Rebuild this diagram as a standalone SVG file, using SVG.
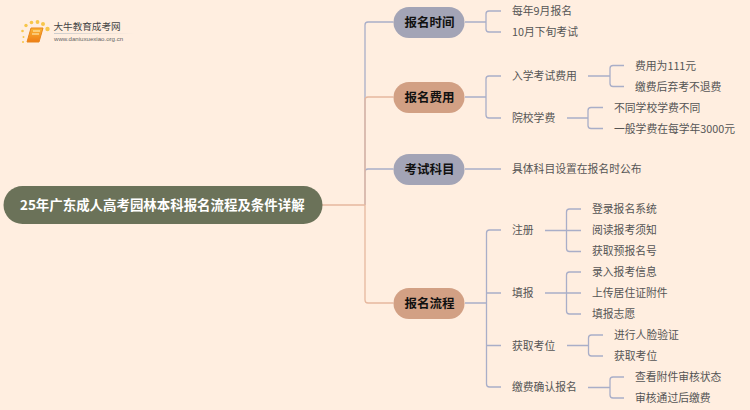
<svg xmlns="http://www.w3.org/2000/svg" width="750" height="410" viewBox="0 0 750 410">
<style>
text{font-family:"Noto Sans CJK SC","Noto Sans",sans-serif;dominant-baseline:central;transform:translateY(-.6px)}
.l{font-size:10.8px;fill:#555}
.b{font-size:12.5px;font-weight:700;fill:#111}
.c{fill:none;stroke-width:1.3;stroke-linejoin:round}
.g{stroke:#a9aec8}
.o{stroke:#e6b89f}
.d{fill:#f7c64a}
</style>
<defs><linearGradient id="u"><stop offset="0" stop-color="#ccc"/><stop offset="1" stop-color="#ccc" stop-opacity="0"/></linearGradient>
<linearGradient id="k" x1="0" y1="0" x2="0" y2="1"><stop offset="0" stop-color="#fbb535"/><stop offset="1" stop-color="#ee7d15"/></linearGradient></defs>
<rect width="750" height="410" fill="#ffeee0"/>
<g id="logo">
<circle class="d" cx="23" cy="42" r="1"/><circle class="d" cx="22.500" cy="31" r="1.300"/><circle class="d" cx="26" cy="25.500" r="1.700"/><circle class="d" cx="31.500" cy="22.500" r="1.800"/><circle class="d" cx="37.500" cy="22" r="1.900"/><circle class="d" cx="43" cy="24" r="2"/><circle class="d" cx="47.500" cy="29" r="2.200"/><circle class="d" cx="23.500" cy="37" r="1"/>
<path d="M31 28H43L39 42H27Z" fill="url(#k)" stroke="#e8861c" stroke-width="1"/><path d="M33 31H40M32 34H39" stroke="#fff3c0" stroke-width="1"/>
<text x="53.500" y="27" style="font-size:9.600px;fill:#444">大牛教育成考网</text>
<rect x="54" y="33" width="80" height="1" fill="url(#u)"/>
<text x="54" y="39" style="font-size:6.100px;fill:#666;font-family:'Liberation Sans',sans-serif">www.daniuxuexiao.org.cn</text>
</g>
<g id="connectors">
<path class="c g" d="M365 205V25Q365 22 368 22H393.500M365 172Q365 169 368 169H393.500"/>
<path class="c o" d="M322 205H365M365 205V100Q365 97 368 97H393.500M365 205V300Q365 303 368 303H393.500"/>
<path class="c g" d="M465 22H486M501 11H489Q486 11 486 14V29Q486 32 489 32H501"/>
<path class="c g" d="M465 97H486M501 76H489Q486 76 486 79V115Q486 118 489 118H501"/>
<path class="c g" d="M588 76H610M624 65.500H613Q610 65.500 610 68.500V83.500Q610 86.500 613 86.500H624"/>
<path class="c g" d="M567 118H588M603 107.500H591Q588 107.500 588 110.500V125.500Q588 128.500 591 128.500H603"/>
<path class="c g" d="M465 169H501"/>
<path class="c g" d="M465 303H486.500M501 230H489.500Q486.500 230 486.500 233V384Q486.500 387 489.500 387H501M486.500 293H501M486.500 345.500H501"/>
<path class="c g" d="M545 230.500H581M581 209H569.500Q566.500 209 566.500 212V248.500Q566.500 251.500 569.500 251.500H581"/>
<path class="c g" d="M545 293H581M581 272H569.500Q566.500 272 566.500 275V311Q566.500 314 569.500 314H581"/>
<path class="c g" d="M567 345.500H588.500M603 335H591.500Q588.500 335 588.500 338V353Q588.500 356 591.500 356H603"/>
<path class="c g" d="M588 387.500H610M624 377H613Q610 377 610 380V395Q610 398 613 398H624"/>
</g>
<g id="root"><rect x="3.500" y="186" width="319" height="38" rx="19" fill="#6b7259"/><text x="20" y="204.500" style="font-size:13.450px;font-weight:700;fill:#fff">25年广东成人高考园林本科报名流程及条件详解</text></g>
<g id="n1"><rect x="393.500" y="7" width="71" height="31" rx="15.500" fill="#a3a4b6"/><text class="b" x="404.500" y="22" >报名时间</text></g>
<g id="n2"><rect x="393.500" y="82" width="71" height="31" rx="15.500" fill="#d2a084"/><text class="b" x="404.500" y="97">报名费用</text></g>
<g id="n3"><rect x="393.500" y="154" width="71" height="31" rx="15.500" fill="#a3a4b6"/><text class="b" x="404.500" y="169">考试科目</text></g>
<g id="n4"><rect x="393.500" y="288" width="71" height="31" rx="15.500" fill="#d2a084"/><text class="b" x="404.500" y="303.500">报名流程</text></g>
<g id="leaves">
<text class="l" x="512" y="11">每年9月报名</text>
<text class="l" x="512" y="32">10月下旬考试</text>
<text class="l" x="512" y="76">入学考试费用</text>
<text class="l" x="635" y="65.500">费用为111元</text>
<text class="l" x="635" y="86.500">缴费后弃考不退费</text>
<text class="l" x="512" y="118">院校学费</text>
<text class="l" x="614" y="107.500">不同学校学费不同</text>
<text class="l" x="614" y="128.500">一般学费在每学年3000元</text>
<text class="l" x="512" y="169">具体科目设置在报名时公布</text>
<text class="l" x="512" y="230">注册</text>
<text class="l" x="592" y="209">登录报名系统</text>
<text class="l" x="592" y="230">阅读报考须知</text>
<text class="l" x="592" y="251">获取预报名号</text>
<text class="l" x="512" y="293">填报</text>
<text class="l" x="592" y="272">录入报考信息</text>
<text class="l" x="592" y="293">上传居住证附件</text>
<text class="l" x="592" y="314">填报志愿</text>
<text class="l" x="512" y="345.500">获取考位</text>
<text class="l" x="614" y="335">进行人脸验证</text>
<text class="l" x="614" y="356">获取考位</text>
<text class="l" x="512" y="387">缴费确认报名</text>
<text class="l" x="635" y="377">查看附件审核状态</text>
<text class="l" x="635" y="398">审核通过后缴费</text>
</g>
</svg>
